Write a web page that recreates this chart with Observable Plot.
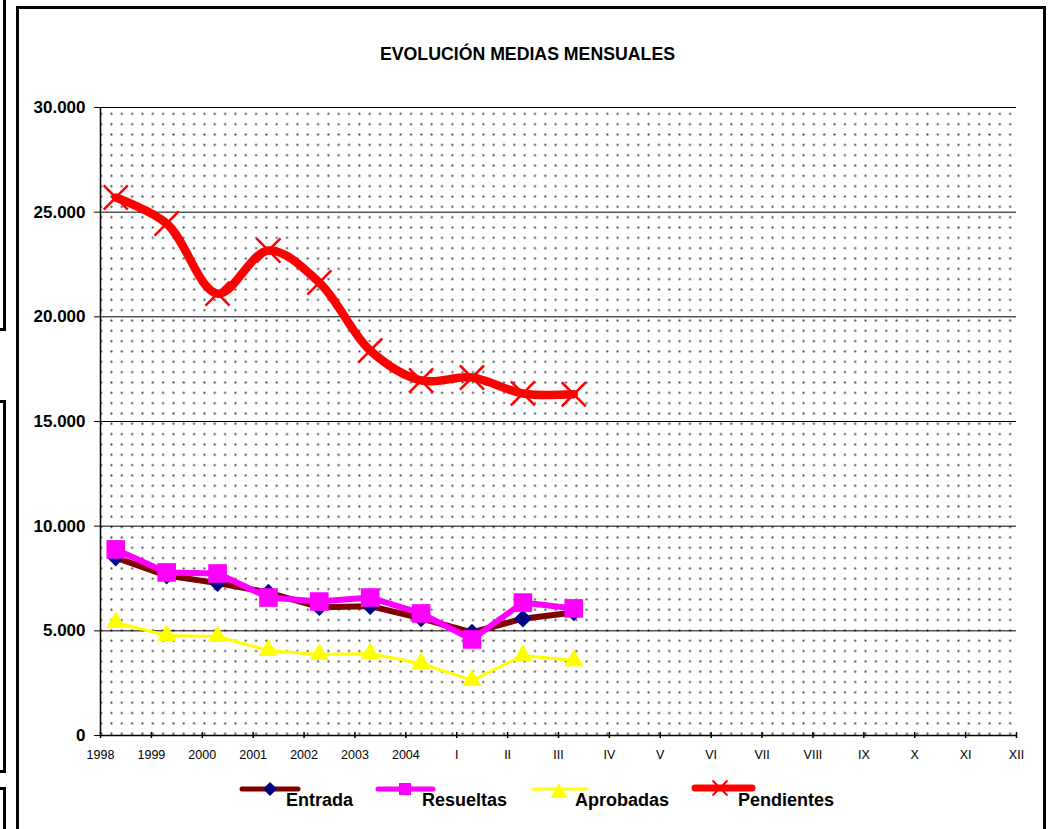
<!DOCTYPE html>
<html>
<head>
<meta charset="utf-8">
<script src="https://cdn.jsdelivr.net/npm/d3@7"></script>
<script src="https://cdn.jsdelivr.net/npm/@observablehq/plot@0.6"></script>
<style>
  body { margin: 0; background: #fff; overflow: hidden; }
  #page { position: relative; width: 1051px; height: 829px; overflow: hidden; background: #fff;
          font-family: "Liberation Sans", Arial, sans-serif; }
  .frag { position: absolute; left: -100px; width: 100px; border: 3px solid #000; }
  #frame { position: absolute; left: 16px; top: 6px; width: 1024px; height: 900px; border: 3px solid #000; }
  #chart { position: absolute; left: 0; top: 0; }
  #title { position: absolute; left: 0; top: 0; }
  #legend { position: absolute; left: 0; top: 760px; }
  #chart [aria-label^="y-axis"] text { font: bold 17px "Liberation Sans", Arial, sans-serif; fill: #000; }
  #chart [aria-label^="x-axis"] text { font: 12.5px "Liberation Sans", Arial, sans-serif; fill: #000; }
</style>
</head>
<body>
<div id="page">
  <div class="frag" style="top:-10px;height:335px;"></div>
  <div class="frag" style="top:400px;height:367px;"></div>
  <div class="frag" style="top:787px;height:100px;"></div>
  <div id="frame"></div>
  <div id="chart"></div>
  <svg id="title" width="1051" height="80"></svg>
  <svg id="legend" width="1051" height="69"></svg>
</div>
<script>
// ---- data ----
const titleText = "EVOLUCIÓN MEDIAS MENSUALES";
const categories = ["1998", "1999", "2000", "2001", "2002", "2003", "2004", "I", "II", "III"];
const axisLabels = ["1998", "1999", "2000", "2001", "2002", "2003", "2004", "I", "II", "III",
                    "IV", "V", "VI", "VII", "VIII", "IX", "X", "XI", "XII"];
const entrada    = [8500, 7640, 7280, 6830, 6130, 6180, 5600, 4920, 5580, 5880];
const resueltas  = [8890, 7790, 7740, 6590, 6400, 6590, 5830, 4590, 6350, 6070];
const aprobadas  = [5400, 4780, 4730, 4060, 3870, 3920, 3440, 2630, 3820, 3580];
const pendientes = [25700, 24460, 21110, 23170, 21640, 18390, 16960, 17100, 16340, 16300];
const yTicks = [0, 5000, 10000, 15000, 20000, 25000, 30000];
const seriesNames = ["Entrada", "Resueltas", "Aprobadas", "Pendientes"];

// ---- styles per series ----
const seriesStyle = {
  Entrada:    { values: entrada,    line: "#800000", width: 6, symbol: "diamond2", fill: "#000080", stroke: "none",    r: 8,    curve: "linear" },
  Resueltas:  { values: resueltas,  line: "#FF00FF", width: 6, symbol: "square",   fill: "#FF00FF", stroke: "none",    r: 10.5, curve: "linear" },
  Aprobadas:  { values: aprobadas,  line: "#FFFF00", width: 3, symbol: "triangle", fill: "#FFFF00", stroke: "none",    r: 7.2,  curve: "linear" },
  Pendientes: { values: pendientes, line: "#FF0000", width: 8.5, symbol: "times",  fill: "none",    stroke: "#FF0000", r: 11,   curve: "catmull-rom" }
};
// Excel draws the data points a little to the right of each labelled tick
const pointOffset = 0.3;

const rowsFor = name => categories.map((c, i) => ({
  series: name, cat: c, x: axisLabels.indexOf(c) + pointOffset, value: seriesStyle[name].values[i]
}));

const fmt = d => d === 0 ? "0" : d3.format(",")(d).replace(/,/g, ".");

const lineMarks = [];
const dotMarks = [];
for (const name of seriesNames) {
  const s = seriesStyle[name];
  const rows = rowsFor(name);
  lineMarks.push(Plot.line(rows, { x: "x", y: "value", stroke: s.line, strokeWidth: s.width,
    curve: s.curve, strokeLinejoin: "round", strokeLinecap: "round" }));
  dotMarks.push(Plot.dot(rows, { x: "x", y: "value", symbol: s.symbol, r: s.r,
    fill: s.fill, stroke: s.stroke, strokeWidth: name === "Pendientes" ? 2.5 : 1 }));
}

const xTickValues = d3.range(axisLabels.length);

const chart = Plot.plot({
  width: 1051,
  height: 780,
  marginLeft: 100,
  marginRight: 35,
  marginTop: 107,
  marginBottom: 45,
  style: { background: "transparent", fontFamily: "Liberation Sans, Arial, sans-serif", color: "#000" },
  x: { type: "linear", domain: [0, axisLabels.length - 1], ticks: xTickValues,
       tickFormat: i => axisLabels[i], tickSize: 0, tickPadding: 15, label: null },
  y: { domain: [0, 30000], ticks: yTicks, tickFormat: fmt, tickSize: 6, tickPadding: 9, label: null },
  marks: [
    Plot.frame({ fill: "white", stroke: "none" }),
    Plot.ruleY(yTicks, { stroke: "#000", strokeWidth: 1 }),
    Plot.ruleX([0], { stroke: "#000", strokeWidth: 1.5 }),
    Plot.ruleY([0], { stroke: "#000", strokeWidth: 1.5 }),
    Plot.ruleX(xTickValues, { x: d => d, y1: 0, y2: 0, insetTop: -3, insetBottom: -3, stroke: "#000", strokeWidth: 1.5 }),
    ...lineMarks,
    ...dotMarks
  ]
});
document.getElementById("chart").appendChild(chart);

// dotted fill pattern of the plot area
const svgSel = d3.select(chart);
const defs = svgSel.insert("defs", ":first-child");
const cell = 10.33;
const pat = defs.append("pattern").attr("id", "dots").attr("patternUnits", "userSpaceOnUse")
  .attr("x", 105.8).attr("y", 108.2).attr("width", cell).attr("height", cell);
pat.append("rect").attr("width", cell).attr("height", cell).attr("fill", "#fff");
pat.append("circle").attr("cx", cell / 2).attr("cy", cell / 2).attr("r", 1.5).attr("fill", "#d4d4d4");
pat.append("circle").attr("cx", cell / 2).attr("cy", cell / 2).attr("r", 0.9).attr("fill", "#333");
svgSel.selectAll('[aria-label="frame"], [aria-label="frame"] rect').attr("fill", "url(#dots)");

// title
d3.select("#title").append("text")
  .attr("x", 527.5).attr("y", 60).attr("text-anchor", "middle")
  .attr("textLength", 295).attr("lengthAdjust", "spacingAndGlyphs")
  .style("font", "bold 17.5px 'Liberation Sans Narrow', 'Arial Narrow', 'Liberation Sans', Arial, sans-serif")
  .attr("fill", "#000")
  .text(titleText);

// legend
const legend = d3.select("#legend");
const legendPos = { Entrada: [242, 298, 286], Resueltas: [378, 433, 422], Aprobadas: [533, 587, 575], Pendientes: [695, 752, 738] };
const legendSym = {
  Entrada:    { type: d3.symbolDiamond2, size: 125, w: 5, cx: 270, cy: 29 },
  Resueltas:  { type: d3.symbolSquare,   size: 144, w: 5, cx: 405, cy: 29 },
  Aprobadas:  { type: d3.symbolTriangle, size: 125, w: 3, cx: 559, cy: 33 },
  Pendientes: { type: d3.symbolTimes,    size: 148, w: 7, cx: 720, cy: 28 }
};
for (const name of seriesNames) {
  const s = seriesStyle[name];
  const [x1, x2, tx] = legendPos[name];
  const ls = legendSym[name];
  legend.append("line").attr("x1", x1).attr("x2", x2).attr("y1", name === "Pendientes" ? 28 : 29).attr("y2", name === "Pendientes" ? 28 : 29)
    .attr("stroke", s.line).attr("stroke-width", ls.w).attr("stroke-linecap", "round");
  legend.append("path").attr("d", d3.symbol(ls.type, ls.size)())
    .attr("transform", `translate(${ls.cx},${ls.cy})`)
    .attr("fill", s.fill).attr("stroke", s.stroke).attr("stroke-width", 2);
  legend.append("text").attr("x", tx).attr("y", 46)
    .style("font", "bold 18px 'Liberation Sans', Arial, sans-serif").attr("fill", "#000")
    .text(name);
}
</script>
</body>
</html>
